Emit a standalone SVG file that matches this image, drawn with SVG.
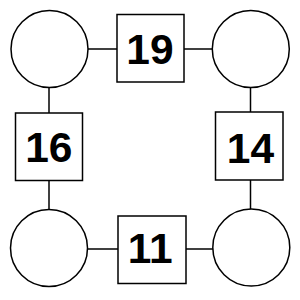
<svg xmlns="http://www.w3.org/2000/svg" width="300" height="300" viewBox="0 0 300 300">
<style>
.c{fill:#fff;stroke:#000;stroke-width:1.5}
.s{fill:#fff;stroke:#000;stroke-width:1.5}
.l{stroke:#000;stroke-width:1.5;fill:none}
.t{font-family:"Liberation Sans",Arial,sans-serif;font-weight:bold;font-size:42.5px;text-anchor:middle;fill:#000}
</style>
<rect width="300" height="300" fill="#fff"/>
<g id="connectors">
<line class="l" x1="88" y1="49" x2="117" y2="49"/>
<line class="l" x1="184" y1="49" x2="212" y2="49"/>
<line class="l" x1="88" y1="249" x2="118" y2="249"/>
<line class="l" x1="186" y1="249" x2="213" y2="249"/>
<line class="l" x1="49" y1="88" x2="49" y2="113"/>
<line class="l" x1="49" y1="181" x2="49" y2="209"/>
<line class="l" x1="250.5" y1="88" x2="250.5" y2="112"/>
<line class="l" x1="250.5" y1="180" x2="250.5" y2="209"/>
</g>
<g id="c1"><circle class="c" cx="49.5" cy="49" r="38.5"/></g>
<g id="c2"><circle class="c" cx="250.8" cy="49" r="38.5"/></g>
<g id="c3"><circle class="c" cx="49" cy="248" r="38.5"/></g>
<g id="c4"><circle class="c" cx="251.3" cy="247.5" r="38.5"/></g>
<g id="n19"><rect class="s" x="117" y="14.5" width="67" height="67.5"/><text class="t" x="150" y="63.5">19</text></g>
<g id="n16"><rect class="s" x="15.5" y="113" width="67" height="67.5"/><text class="t" x="48.8" y="161.7">16</text></g>
<g id="n14"><rect class="s" x="215.5" y="112" width="67.5" height="68"/><text class="t" x="250.5" y="162.7">14</text></g>
<g id="n11"><rect class="s" x="118" y="216" width="68" height="67.5"/><text class="t" x="150.2" y="263">11</text></g>
</svg>
